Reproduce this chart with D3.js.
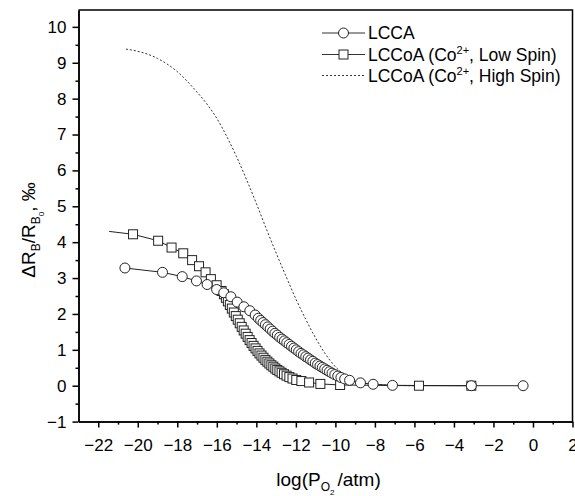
<!DOCTYPE html>
<html>
<head>
<meta charset="utf-8">
<script src="https://cdn.jsdelivr.net/npm/d3@7"></script>
<style>
  body { margin: 0; background: #fff; }
  text { font-family: "Liberation Sans", Arial, sans-serif; fill: #000; }
  .axis path, .axis line { stroke: #000; stroke-width: 1.5; }
  .axis text { font-size: 17px; }
</style>
</head>
<body>
<div id="chart"></div>
<script>
// LCCA (circles)
let lccaX = [-20.65, -18.75, -17.75, -17.03, -16.49, -16.01, -15.65, -15.29, -14.97, -14.63, -14.33, -14.06,
  -13.90, -13.78, -13.66, -13.54, -13.42, -13.30, -13.18, -13.06, -12.94, -12.82, -12.70, -12.58,
  -12.46, -12.34, -12.22, -12.10, -11.98, -11.86, -11.74, -11.62, -11.50, -11.38, -11.26, -11.14,
  -11.02, -10.90, -10.78, -10.66, -10.54, -10.42, -10.30, -10.17, -10.03, -9.88, -9.72, -9.53, -9.28,
  -8.73, -8.09, -7.11, -3.12, -0.50];
let lccaY = [3.28, 3.16, 3.04, 2.92, 2.82, 2.68, 2.59, 2.48, 2.33, 2.20, 2.09, 1.97,
  1.88, 1.82, 1.76, 1.70, 1.64, 1.58, 1.52, 1.46, 1.41, 1.35, 1.30, 1.25,
  1.20, 1.15, 1.10, 1.05, 1.00, 0.95, 0.90, 0.86, 0.81, 0.77, 0.72, 0.68,
  0.63, 0.59, 0.55, 0.51, 0.47, 0.43, 0.39, 0.35, 0.31, 0.27, 0.23, 0.19, 0.15,
  0.08, 0.04, 0.01, 0.00, 0.00];

// LCCoA low spin (squares); first point is the line start without a symbol
let lowX = [-21.45, -20.24, -18.97, -18.29, -17.70, -17.25, -16.90, -16.57, -16.30, -16.01, -15.76,
  -15.64, -15.54, -15.44, -15.34, -15.24, -15.14, -15.04, -14.94, -14.84, -14.74, -14.64, -14.54,
  -14.44, -14.34, -14.24, -14.14, -14.04, -13.94, -13.84, -13.74, -13.64, -13.54, -13.44, -13.34,
  -13.24, -13.14, -13.04, -12.94, -12.83, -12.72, -12.60, -12.47, -12.33, -12.17, -11.98, -11.72,
  -11.33, -10.76, -9.76, -5.77, -3.12];
let lowY = [4.30, 4.22, 4.04, 3.85, 3.69, 3.50, 3.33, 3.16, 2.97, 2.80, 2.64,
  2.55, 2.45, 2.35, 2.25, 2.15, 2.04, 1.94, 1.84, 1.74, 1.64, 1.54, 1.45,
  1.36, 1.27, 1.19, 1.11, 1.04, 0.97, 0.90, 0.84, 0.78, 0.72, 0.67, 0.62,
  0.57, 0.53, 0.48, 0.44, 0.40, 0.36, 0.32, 0.28, 0.24, 0.20, 0.16, 0.13,
  0.09, 0.05, 0.02, 0.00, 0.00];

// LCCoA high spin (dotted line)
let highX = [-20.6, -20.0, -19.0, -18.0, -17.0, -16.5, -16.0, -15.5, -15.0, -14.5, -14.0, -13.5,
  -13.0, -12.5, -12.0, -11.5, -11.0, -10.5, -10.0, -9.5, -9.0, -8.5, -8.0, -7.0, -6.0];
let highY = [9.38, 9.32, 9.12, 8.75, 8.18, 7.85, 7.45, 6.95, 6.38, 5.75, 5.08, 4.38,
  3.70, 3.05, 2.42, 1.85, 1.33, 0.88, 0.53, 0.29, 0.15, 0.08, 0.04, 0.01, 0.00];

let xTicks = d3.range(-22, 3, 2);
let xMinor = d3.range(-21, 3, 2);
let yTicks = d3.range(-1, 11, 1);
let yMinor = d3.range(-0.5, 10.5, 1);

let legendNames = ['LCCA', 'LCCoA (Co', 'LCCoA (Co'];
let legendTails = ['', ', Low Spin)', ', High Spin)'];

let W = 575, H = 496;
let margin = {top: 10, right: 2.5, bottom: 74.4, left: 78.5};
let width = W - margin.left - margin.right;
let height = H - margin.top - margin.bottom;

let xScale = d3.scaleLinear().domain([-23, 2]).range([0, width]);
let yScale = d3.scaleLinear().domain([-1, 10.47]).range([height, 0]);

let svg = d3.select('#chart')
  .append('svg')
  .attr('width', W)
  .attr('height', H)
  .append('g')
  .attr('transform', 'translate(' + margin.left + ',' + margin.top + ')');

// frame (top and right)
svg.append('path')
  .attr('d', 'M0,0H' + width + 'V' + height)
  .attr('fill', 'none')
  .attr('stroke', '#000')
  .attr('stroke-width', 1.5);

// axes
svg.append('g')
  .attr('class', 'x axis')
  .attr('transform', 'translate(0,' + height + ')')
  .call(d3.axisBottom(xScale).tickValues(xMinor).tickSize(3).tickFormat('').tickSizeOuter(0));
svg.append('g')
  .attr('class', 'x axis')
  .attr('transform', 'translate(0,' + height + ')')
  .call(d3.axisBottom(xScale).tickValues(xTicks).tickSize(6).tickPadding(11).tickSizeOuter(0));

svg.append('g')
  .attr('class', 'y axis')
  .call(d3.axisLeft(yScale).tickValues(yMinor).tickSize(3).tickFormat('').tickSizeOuter(0));
svg.append('g')
  .attr('class', 'y axis')
  .call(d3.axisLeft(yScale).tickValues(yTicks).tickSize(6).tickPadding(6).tickSizeOuter(0));

// axis titles
let xt = svg.append('text')
  .attr('x', width / 2 + 3)
  .attr('y', height + 64)
  .attr('text-anchor', 'middle')
  .style('font-size', '19px');
xt.append('tspan').text('log(P');
xt.append('tspan').attr('dy', 5).style('font-size', '12px').text('O');
xt.append('tspan').attr('dy', 4).style('font-size', '8px').text('2');
xt.append('tspan').attr('dy', -9).attr('dx', 3).text('/atm)');

let yt = svg.append('text')
  .attr('transform', 'translate(' + (35 - margin.left) + ',' + (230 - margin.top) + ') rotate(-90)')
  .attr('text-anchor', 'middle')
  .style('font-size', '19px');
yt.append('tspan').text('\u0394R');
yt.append('tspan').attr('dy', 5).style('font-size', '12px').text('B');
yt.append('tspan').attr('dy', -5).text('/R');
yt.append('tspan').attr('dy', 5).style('font-size', '12px').text('B');
yt.append('tspan').attr('dy', 4).style('font-size', '8px').text('0');
yt.append('tspan').attr('dy', -9).text(', \u2030');

// series
let line = d3.line().x(d => xScale(d[0])).y(d => yScale(d[1]));
let lcca = d3.zip(lccaX, lccaY);
let low = d3.zip(lowX, lowY);
let high = d3.zip(highX, highY);

svg.append('path')
  .datum(high)
  .attr('fill', 'none')
  .attr('stroke', '#333')
  .attr('stroke-width', 1)
  .attr('stroke-dasharray', '2,2')
  .attr('d', line.curve(d3.curveMonotoneX));

line.curve(d3.curveLinear);
svg.append('path')
  .datum(low)
  .attr('fill', 'none')
  .attr('stroke', '#222')
  .attr('stroke-width', 1)
  .attr('d', line);
svg.append('path')
  .datum(lcca)
  .attr('fill', 'none')
  .attr('stroke', '#222')
  .attr('stroke-width', 1)
  .attr('d', line);

svg.selectAll('rect.low')
  .data(low.slice(1))
  .enter()
  .append('rect')
  .attr('class', 'low')
  .attr('x', d => xScale(d[0]) - 4.5)
  .attr('y', d => yScale(d[1]) - 4.5)
  .attr('width', 9)
  .attr('height', 9)
  .attr('fill', '#fff')
  .attr('stroke', '#222')
  .attr('stroke-width', 1);

svg.selectAll('circle.lcca')
  .data(lcca)
  .enter()
  .append('circle')
  .attr('class', 'lcca')
  .attr('cx', d => xScale(d[0]))
  .attr('cy', d => yScale(d[1]))
  .attr('r', 5)
  .attr('fill', '#fff')
  .attr('stroke', '#222')
  .attr('stroke-width', 1);

// legend
let lg = svg.append('g').attr('transform', 'translate(' + (322 - margin.left) + ',' + (33 - margin.top) + ')');
let rowY = [0, 21.5, 42.5];
rowY.forEach((ry, i) => {
  lg.append('line')
    .attr('x1', 0).attr('x2', 43)
    .attr('y1', ry).attr('y2', ry)
    .attr('stroke', '#333')
    .attr('stroke-width', 1)
    .attr('stroke-dasharray', i === 2 ? '2,2' : null);
  if (i === 0) {
    lg.append('circle').attr('cx', 21.5).attr('cy', ry).attr('r', 5)
      .attr('fill', '#fff').attr('stroke', '#222');
  } else if (i === 1) {
    lg.append('rect').attr('x', 17).attr('y', ry - 4.5).attr('width', 9).attr('height', 9)
      .attr('fill', '#fff').attr('stroke', '#222');
  }
  let t = lg.append('text')
    .attr('x', 46)
    .attr('y', ry + 6)
    .style('font-size', '17.5px');
  t.append('tspan').text(legendNames[i]);
  if (i > 0) {
    t.append('tspan').attr('dy', -7).style('font-size', '11px').text('2+');
    t.append('tspan').attr('dy', 7).text(legendTails[i]);
  }
});
</script>
</body>
</html>
